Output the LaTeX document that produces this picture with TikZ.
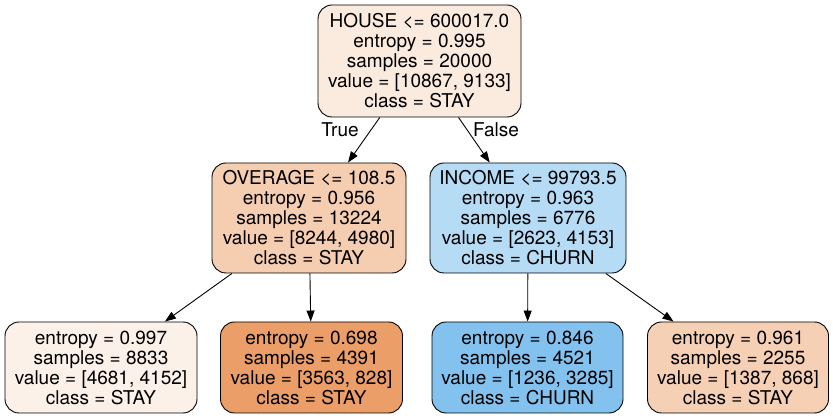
\documentclass[tikz,border=0pt]{standalone}
\usepackage{fontspec}
\setmainfont{TeX Gyre Heros}
\usetikzlibrary{arrows.meta}
\definecolor{rootfill}{RGB}{251,235,223}
\definecolor{overagefill}{RGB}{245,205,177}
\definecolor{incomefill}{RGB}{182,219,245}
\definecolor{llfill}{RGB}{252,241,233}
\definecolor{lrfill}{RGB}{235,158,103}
\definecolor{rlfill}{RGB}{131,194,239}
\definecolor{rrfill}{RGB}{245,208,181}
\tikzset{
  treenode/.style={draw, line width=0.9pt, rounded corners=14pt, align=center,
    inner sep=0pt, font=\fontsize{19}{20}\selectfont},
  treeedge/.style={line width=0.9pt, -{Triangle[length=11pt,width=8pt]}},
  edgelabel/.style={font=\fontsize{19}{20}\selectfont}
}
\begin{document}
\begin{tikzpicture}[x=1pt,y=-1pt]
  \useasboundingbox (0,0) rectangle (833,419);
  \node[treenode, fill=rootfill, minimum width=203pt, minimum height=112pt] (house) at (419.5,61)
    {HOUSE <= 600017.0\\entropy = 0.995\\samples = 20000\\value = [10867, 9133]\\class = STAY};
  \node[treenode, fill=overagefill, minimum width=194pt, minimum height=110pt] (overage) at (309,218)
    {OVERAGE <= 108.5\\entropy = 0.956\\samples = 13224\\value = [8244, 4980]\\class = STAY};
  \node[treenode, fill=incomefill, minimum width=196pt, minimum height=110pt] (income) at (528,218)
    {INCOME <= 99793.5\\entropy = 0.963\\samples = 6776\\value = [2623, 4153]\\class = CHURN};
  \node[treenode, fill=llfill, minimum width=192pt, minimum height=91pt] (leafa) at (101,367.5)
    {entropy = 0.997\\samples = 8833\\value = [4681, 4152]\\class = STAY};
  \node[treenode, fill=lrfill, minimum width=182pt, minimum height=91pt] (leafb) at (311.5,367.5)
    {entropy = 0.698\\samples = 4391\\value = [3563, 828]\\class = STAY};
  \node[treenode, fill=rlfill, minimum width=191pt, minimum height=91pt] (leafc) at (527.5,367.5)
    {entropy = 0.846\\samples = 4521\\value = [1236, 3285]\\class = CHURN};
  \node[treenode, fill=rrfill, minimum width=181pt, minimum height=91pt] (leafd) at (738,367.5)
    {entropy = 0.961\\samples = 2255\\value = [1387, 868]\\class = STAY};
  % edges
  \draw[treeedge] (house) -- (overage);
  \draw[treeedge] (house) -- (income);
  \draw[treeedge] (overage) -- (leafa);
  \draw[treeedge] (overage) -- (leafb);
  \draw[treeedge] (income) -- (leafc);
  \draw[treeedge] (income) -- (leafd);
  \node[edgelabel] (truelab) at (340,130) {True};
  \node[edgelabel] (falselab) at (496,130) {False};
\end{tikzpicture}
\end{document}
